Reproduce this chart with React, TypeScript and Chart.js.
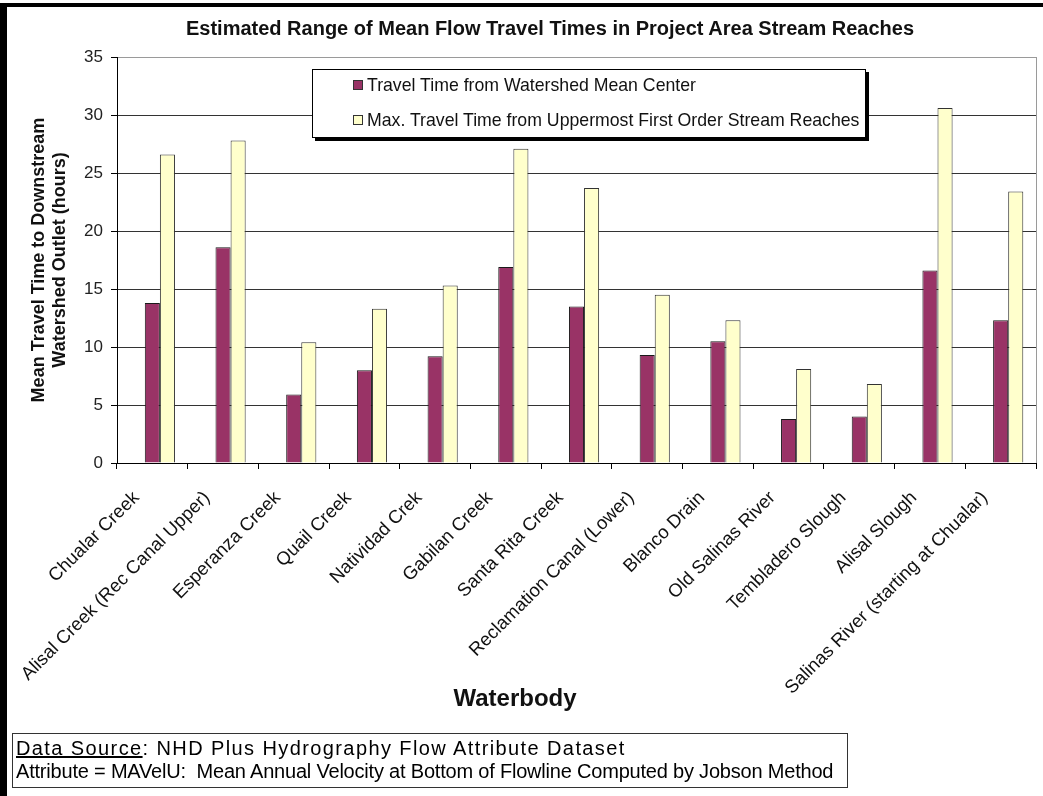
import React, { useEffect, useRef } from 'react';
import { Chart, registerables } from 'chart.js';

Chart.register(...registerables);

const categories = [
  'Chualar Creek',
  'Alisal Creek (Rec Canal Upper)',
  'Esperanza Creek',
  'Quail Creek',
  'Natividad Crek',
  'Gabilan Creek',
  'Santa Rita Creek',
  'Reclamation Canal (Lower)',
  'Blanco Drain',
  'Old Salinas River',
  'Tembladero Slough',
  'Alisal Slough',
  'Salinas River (starting at Chualar)',
];
// the original workbook has an empty first series that occupies the first bar slot
const emptySeries = [null, null, null, null, null, null, null, null, null, null, null, null, null];
const meanCenterTimes = [13.8, 18.6, 5.9, 8.0, 9.2, 16.9, 13.5, 9.3, 10.5, 3.8, 4.0, 16.6, 12.3];
const maxTimes = [26.6, 27.8, 10.4, 13.3, 15.3, 27.1, 23.7, 14.5, 12.3, 8.1, 6.8, 30.6, 23.4];
const seriesNames = [
  'Travel Time from Watershed Mean Center',
  'Max. Travel Time from Uppermost First Order Stream Reaches',
];
const seriesColors = ['#993366', '#FFFFCC'];
const seriesBorders = ['#1a1a1a', '#333333'];
const yMin = 0;
const yMax = 35;
const yStep = 5;
const chartTitle = 'Estimated Range of Mean Flow Travel Times in Project Area Stream Reaches';
const yTitle = ['Mean Travel Time to Downstream', 'Watershed Outlet (hours)'];
const xTitle = 'Waterbody';
const noteLabel = 'Data Source';
const noteLine1 = ': NHD Plus Hydrography Flow Attribute Dataset';
const noteLine2 = 'Attribute = MAVelU:\u00a0 Mean Annual Velocity at Bottom of Flowline Computed by Jobson Method';

const FONT = "'Liberation Sans', Arial, sans-serif";

const plotBorder = {
  id: 'plotBorder',
  afterDraw(chart: any) {
    const { ctx, chartArea } = chart;
    ctx.save();
    ctx.strokeStyle = '#9a9a9a';
    ctx.lineWidth = 1;
    ctx.beginPath();
    ctx.moveTo(Math.round(chartArea.right) + 0.5, chartArea.top);
    ctx.lineTo(Math.round(chartArea.right) + 0.5, chartArea.bottom);
    ctx.stroke();
    ctx.restore();
  },
};

export default function App() {
  const canvasRef = useRef<HTMLCanvasElement | null>(null);

  useEffect(() => {
    if (!canvasRef.current) return;
    Chart.defaults.font.family = FONT;
    const barOpts = { borderWidth: 1, categoryPercentage: 0.64, barPercentage: 1.0 };
    const chart = new Chart(canvasRef.current, {
      type: 'bar',
      data: {
        labels: categories,
        datasets: [
          {
            label: '',
            data: emptySeries,
            backgroundColor: 'rgba(0,0,0,0)',
            borderColor: 'rgba(0,0,0,0)',
            ...barOpts,
          },
          {
            label: seriesNames[0],
            data: meanCenterTimes,
            backgroundColor: seriesColors[0],
            borderColor: seriesBorders[0],
            ...barOpts,
          },
          {
            label: seriesNames[1],
            data: maxTimes,
            backgroundColor: seriesColors[1],
            borderColor: seriesBorders[1],
            ...barOpts,
          },
        ],
      },
      options: {
        responsive: false,
        animation: false,
        devicePixelRatio: 1,
        layout: { padding: { left: 20, top: 57, right: 7, bottom: 73 } },
        plugins: {
          legend: { display: false },
          title: { display: false },
          tooltip: { enabled: false },
        },
        scales: {
          x: {
            type: 'category',
            grid: {
              offset: true,
              drawOnChartArea: false,
              drawTicks: true,
              tickLength: 6,
              color: '#000',
            },
            border: { color: '#000', width: 1 },
            ticks: {
              maxRotation: 45,
              minRotation: 45,
              autoSkip: false,
              color: '#111',
              padding: 18,
              labelOffset: -16,
              font: { size: 18.5, family: FONT },
            },
            afterFit(scale: any) {
              scale.height = 260;
            },
          },
          y: {
            min: yMin,
            max: yMax,
            ticks: {
              stepSize: yStep,
              color: '#222',
              padding: 8,
              font: { size: 17, family: FONT },
            },
            grid: {
              color: (ctx: any) => (ctx.tick && ctx.tick.value === yMax ? '#9a9a9a' : '#333'),
              tickColor: '#000',
              tickLength: 6,
              drawTicks: true,
            },
            border: { color: '#000', width: 1 },
            title: {
              display: true,
              text: yTitle,
              color: '#111',
              font: { size: 18, weight: 'bold', family: FONT, lineHeight: 1.15 },
              padding: { top: 9, bottom: 0 },
            },
            afterFit(scale: any) {
              scale.width = 97;
            },
          },
        },
      },
      plugins: [plotBorder],
    });
    return () => chart.destroy();
  }, []);

  return (
    <div
      style={{
        position: 'absolute',
        left: 0,
        top: 0,
        width: 1043,
        height: 796,
        background: '#fff',
        overflow: 'hidden',
        fontFamily: FONT,
      }}
    >
      <canvas ref={canvasRef} width={1043} height={796} style={{ position: 'absolute', left: 0, top: 0, width: 1043, height: 796 }} />
      <div style={{ position: 'absolute', left: 0, top: 3, width: 1043, height: 4, background: '#000' }} />
      <div style={{ position: 'absolute', left: 0, top: 3, width: 7, height: 793, background: '#000' }} />
      <div
        style={{
          position: 'absolute',
          left: 0,
          width: 1100,
          top: 16,
          lineHeight: '24px',
          textAlign: 'center',
          fontWeight: 'bold',
          fontSize: 20,
          color: '#111',
          whiteSpace: 'nowrap',
        }}
      >
        {chartTitle}
      </div>
      <div
        style={{
          position: 'absolute',
          left: 312,
          top: 69,
          width: 554,
          height: 69,
          boxSizing: 'border-box',
          border: '1px solid #000',
          boxShadow: '3px 3px 0 #000',
          background: '#fff',
        }}
      >
        {seriesNames.map((name, i) => (
          <div
            key={name}
            style={{
              position: 'absolute',
              left: 40,
              top: 4 + i * 35,
              height: 22,
              lineHeight: '22px',
              fontSize: 17.7,
              color: '#111',
              whiteSpace: 'nowrap',
            }}
          >
            <span
              style={{
                display: 'inline-block',
                width: 8,
                height: 8,
                background: seriesColors[i],
                border: '1px solid #333',
                marginRight: 4,
                verticalAlign: 'middle',
                position: 'relative',
                top: -1,
              }}
            />
            {name}
          </div>
        ))}
      </div>
      <div
        style={{
          position: 'absolute',
          left: 415,
          width: 200,
          top: 684,
          lineHeight: '28px',
          textAlign: 'center',
          fontWeight: 'bold',
          fontSize: 24,
          color: '#111',
        }}
      >
        {xTitle}
      </div>
      <div
        style={{
          position: 'absolute',
          left: 12,
          top: 733,
          width: 836,
          height: 55,
          boxSizing: 'border-box',
          border: '1px solid #333',
          padding: '3px 0 0 3px',
          fontSize: 20,
          lineHeight: '23px',
          color: '#000',
          whiteSpace: 'nowrap',
        }}
      >
        <div style={{ letterSpacing: 1.4 }}>
          <u>{noteLabel}</u>
          {noteLine1}
        </div>
        <div style={{ letterSpacing: -0.2 }}>{noteLine2}</div>
      </div>
    </div>
  );
}
